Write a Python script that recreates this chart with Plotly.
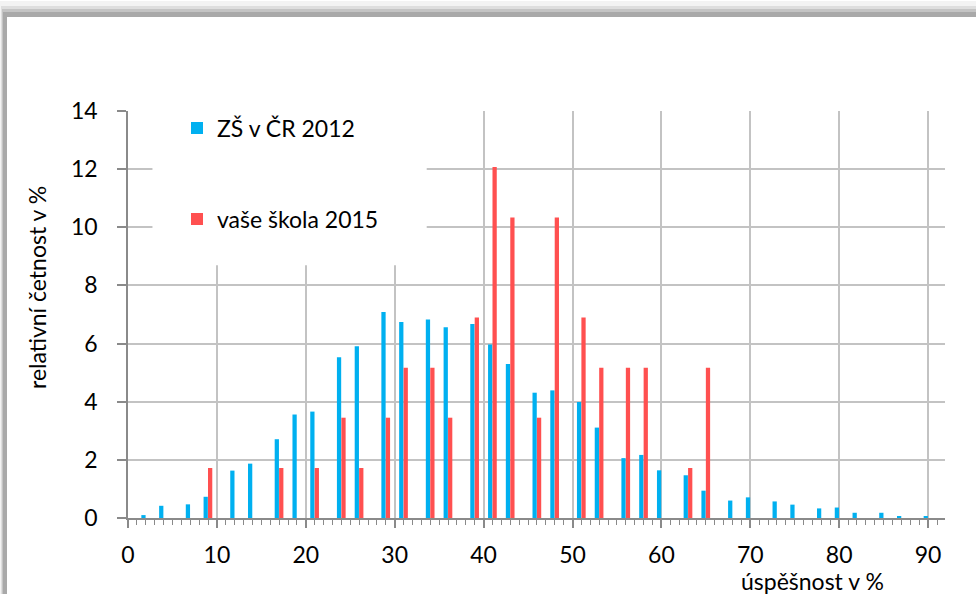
import plotly.graph_objects as go

# group centres (úspěšnost v %)
uspesnost = [2, 4, 7, 9, 12, 14, 17, 19, 21, 24, 26, 29, 31, 34, 36, 39, 41, 43, 46,
             48, 51, 53, 56, 58, 60, 63, 65, 68, 70, 73, 75, 78, 80, 82, 85, 87, 90]
zs_cr_2012 = [0.1, 0.42, 0.47, 0.73, 1.63, 1.87, 2.71, 3.56, 3.66, 5.53, 5.91, 7.09, 6.74,
              6.83, 6.56, 6.67, 5.97, 5.30, 4.31, 4.39, 3.99, 3.11, 2.06, 2.17, 1.64, 1.47,
              0.94, 0.60, 0.71, 0.57, 0.46, 0.33, 0.36, 0.18, 0.18, 0.07, 0.06]
vase_skola_2015 = [0, 0, 0, 1.72, 0, 0, 1.72, 0, 1.72, 3.45, 1.72, 3.45, 5.17, 5.17, 3.45,
                   6.90, 12.07, 10.34, 3.45, 10.34, 6.90, 5.17, 5.17, 5.17, 0, 1.72, 5.17,
                   0, 0, 0, 0, 0, 0, 0, 0, 0, 0]
x_ticks = [0, 10, 20, 30, 40, 50, 60, 70, 80, 90]
y_ticks = [0, 2, 4, 6, 8, 10, 12, 14]

FONT = "Lato"
FS = 23
BLUE = "#00B0F0"
RED = "#FF5050"
GRID = "#c3c3c3"
AX = "#8a8a8a"

# pixel geometry helpers (layout only)
L, R, T, B = 128, 31, 111, 76
W, H = 976, 594
PW, PH = W - L - R, H - T - B


def px(xp):
    return (xp - L) / PW


def py(yp):
    return (H - B - yp) / PH


fig = go.Figure()
fig.add_trace(go.Bar(x=uspesnost, y=zs_cr_2012, name="ZŠ v ČR 2012",
                     marker=dict(color=BLUE, line=dict(width=0)),
                     width=0.48, offset=-0.5, legend="legend"))
fig.add_trace(go.Bar(x=uspesnost, y=vase_skola_2015, name="vaše škola 2015",
                     marker=dict(color=RED, line=dict(width=0)),
                     width=0.48, offset=0.0, legend="legend2"))

shapes = []
# outer frame shadow
for (x0, y0, col) in [(0, 1, "#f3f3f3"), (1, 6, "#dedede"), (2, 9, "#c4c4c4"),
                      (3, 12, "#a9a9a9"), (7, 17, "#ffffff")]:
    shapes.append(dict(type="rect", xref="paper", yref="paper", layer="below",
                       x0=px(x0), x1=px(W + 40), y0=py(y0), y1=py(H + 40),
                       fillcolor=col, line=dict(width=0)))
# white legend background box over gridlines
shapes.append(dict(type="rect", xref="x", yref="y", layer="between",
                   x0=2.75, x1=33.6, y0=8.69, y1=14.6,
                   fillcolor="white", line=dict(width=0)))

annotations = [
    dict(text="relativní četnost v %", xref="paper", yref="paper",
         x=px(37), y=py(288), textangle=-90, showarrow=False,
         font=dict(family=FONT, size=FS, color="black"),
         xanchor="center", yanchor="middle"),
    dict(text="úspěšnost v %", xref="paper", yref="paper",
         x=px(812), y=py(581), showarrow=False,
         font=dict(family=FONT, size=FS, color="black"),
         xanchor="center", yanchor="middle"),
]

fig.update_layout(
    width=W, height=H,
    margin=dict(l=L, r=R, t=T, b=B),
    paper_bgcolor="white", plot_bgcolor="rgba(0,0,0,0)",
    barmode="overlay",
    font=dict(family=FONT, size=FS, color="black"),
    showlegend=True,
    legend=dict(x=px(177), y=py(128), xanchor="left", yanchor="middle",
                bgcolor="rgba(0,0,0,0)", font=dict(family=FONT, size=FS)),
    legend2=dict(x=px(177), y=py(219), xanchor="left", yanchor="middle",
                 bgcolor="rgba(0,0,0,0)", font=dict(family=FONT, size=FS)),
    shapes=shapes,
    annotations=annotations,
    xaxis=dict(range=[0, 91.9], tickvals=x_ticks, ticktext=[str(v) for v in x_ticks],
               showgrid=True, gridcolor=GRID, gridwidth=1.5, zeroline=False,
               showline=True, linecolor=AX, linewidth=1.5,
               ticks="outside", ticklen=8, tickcolor=AX, tickwidth=1.5,
               ticklabelstandoff=8,
               minor=dict(dtick=1, tick0=0, ticks="outside", ticklen=5,
                          tickcolor=AX, tickwidth=1, showgrid=False),
               tickfont=dict(family=FONT, size=FS, color="black")),
    yaxis=dict(range=[0, 14], tickvals=y_ticks, ticktext=[str(v) for v in y_ticks],
               showgrid=True, gridcolor=GRID, gridwidth=1.5, zeroline=False,
               showline=True, linecolor=AX, linewidth=1.5,
               ticks="outside", ticklen=9, tickcolor=AX, tickwidth=1.5,
               ticklabelstandoff=15,
               tickfont=dict(family=FONT, size=FS, color="black")),
)

fig.write_html("out.html",
               config={"displayModeBar": False},
               post_script="document.body.style.margin='0px';"
                           "document.body.style.overflow='hidden';")
